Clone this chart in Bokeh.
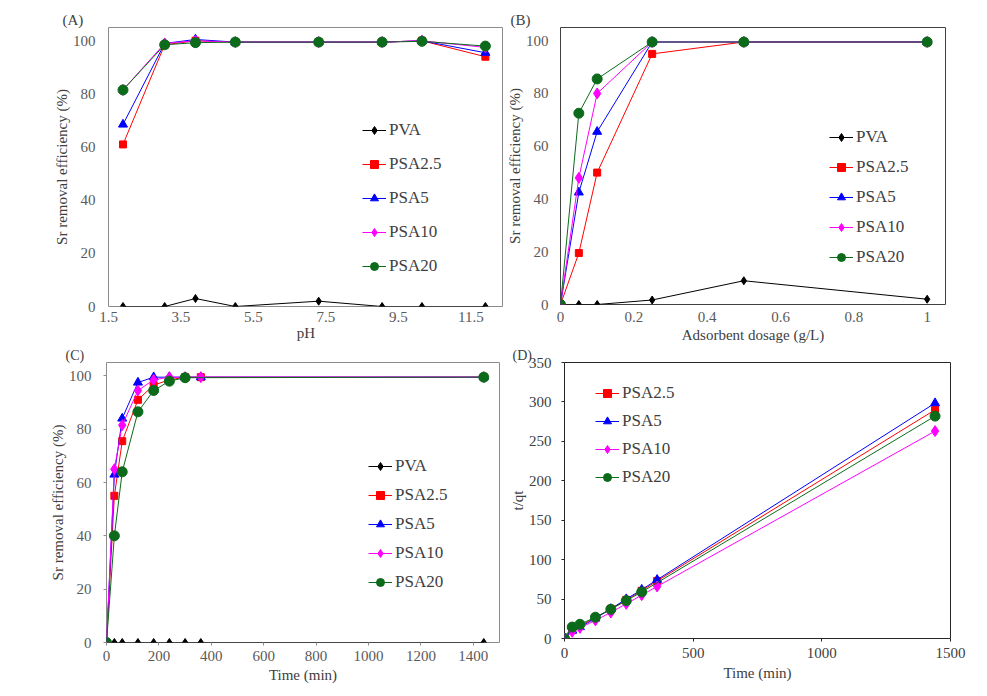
from bokeh.plotting import figure
from bokeh.layouts import column, row
from bokeh.models import FixedTicker, Legend, LegendItem, Range1d
from bokeh.embed import file_html
from bokeh.resources import INLINE

# ---------------- data ----------------
series_names = ["PVA", "PSA2.5", "PSA5", "PSA10", "PSA20"]

# (A) effect of pH
ph = [1.9, 3.05, 3.9, 5.0, 7.3, 9.05, 10.15, 11.9]
a_pva = [0, 0, 3, 0, 2, 0, 0, 0]
a_psa25 = [61, 98.5, 100, 99.5, 99.5, 99.5, 100, 94]
a_psa5 = [68.5, 99, 100.5, 99.5, 99.5, 99.5, 100, 95.5]
a_psa10 = [81.5, 99, 100, 99.5, 99.5, 99.5, 100, 97.5]
a_psa20 = [81.5, 98.5, 99.3, 99.5, 99.5, 99.5, 99.8, 98]

# (B) effect of adsorbent dosage
dose = [0, 0.05, 0.1, 0.25, 0.5, 1]
b_pva = [0, 0, 0, 1.7, 9, 2]
b_psa25 = [0, 19.5, 50, 95, 99.5, 99.5]
b_psa5 = [0, 42.5, 65.5, 99.5, 99.5, 99.5]
b_psa10 = [0, 48, 80, 99.5, 99.5, 99.5]
b_psa20 = [0, 72.5, 85.5, 99.5, 99.5, 99.5]

# (C) effect of contact time
c_time = [0, 30, 60, 120, 180, 240, 300, 360, 1440]
c_time20 = [0, 30, 60, 120, 180, 240, 300, 1440]
c_pva = [0, 0, 0, 0, 0, 0, 0, 0, 0]
c_psa25 = [0, 55, 75.5, 91, 96.5, 98.5, 99.5, 99.5, 99.5]
c_psa5 = [0, 63, 84, 97.5, 99.5, 99.5, 99.5, 99.5, 99.5]
c_psa10 = [0, 65, 81.5, 94.5, 98.5, 99.5, 99.5, 99.5, 99.5]
c_psa20 = [0, 40, 64, 86.5, 94.5, 98, 99.3, 99.5]

# (D) pseudo-second-order t/qt
d_time = [0, 30, 60, 120, 180, 240, 300, 360, 1440]
d_time20 = [0, 30, 60, 120, 180, 240, 300, 1440]
d_psa25 = [0, 11, 16, 26.5, 37.5, 49, 60.5, 73, 290]
d_psa5 = [0, 10, 14.5, 25.5, 37.5, 50, 62, 74.5, 298.5]
d_psa10 = [0, 8.5, 13.5, 23, 33, 44, 55, 66, 263]
d_psa20 = [0, 14.5, 18, 27, 37, 48, 59, 282]

# tick labels
a_xticks = [1.5, 3.5, 5.5, 7.5, 9.5, 11.5]
b_xticks = [0, 0.2, 0.4, 0.6, 0.8, 1]
b_xlabels = ["0", "0.2", "0.4", "0.6", "0.8", "1"]
c_xticks = [0, 200, 400, 600, 800, 1000, 1200, 1400]
d_xticks = [0, 500, 1000, 1500]
eff_yticks = [0, 20, 40, 60, 80, 100]
d_yticks = [0, 50, 100, 150, 200, 250, 300, 350]

# ---------------- styles ----------------
FONT = "'Liberation Serif', 'Times New Roman', serif"
STY = {
    "PVA": dict(color="#000000", marker="diamond", size=8),
    "PSA2.5": dict(color="#ff0000", marker="square", size=7),
    "PSA5": dict(color="#0000ff", marker="triangle", size=9),
    "PSA10": dict(color="#ff00ff", marker="diamond", size=11),
    "PSA20": dict(color="#0b6b1b", marker="circle", size=10),
}


def panel(tag, tag_off, tag_size, xr, yr, fw, fh, mb, xticks, yticks, xlabel, ylabel,
          frame_col, legend_xy, legend_spacing, xlabels=None, ticks_out=0,
          ylab_standoff=13, xlab_standoff=7, xaxis_standoff=2, yaxis_standoff=0,
          tick_col="#5a5a5a"):
    p = figure(frame_width=fw, frame_height=fh, x_range=Range1d(*xr), y_range=Range1d(*yr),
               output_backend="svg", toolbar_location=None,
               min_border_left=mb[0], min_border_right=mb[1], min_border_top=mb[2],
               min_border_bottom=mb[3])
    p.title.text = tag
    p.title.align = "left"
    p.title.offset = tag_off
    p.title.standoff = 0
    p.title.text_font = FONT
    p.title.text_font_size = tag_size
    p.title.text_font_style = "normal"
    p.title.text_color = "#404040"
    p.xgrid.visible = False
    p.ygrid.visible = False
    p.outline_line_color = frame_col
    p.outline_line_width = 1
    p.outline_line_alpha = 1
    for ax in (p.xaxis[0], p.yaxis[0]):
        ax.axis_line_color = None
        ax.minor_tick_line_color = None
        ax.major_tick_in = 0
        ax.major_tick_out = ticks_out
        ax.major_tick_line_color = frame_col if ticks_out else None
        ax.major_label_text_font = FONT
        ax.major_label_text_font_size = "15px"
        ax.major_label_text_font_style = "normal"
        ax.major_label_text_color = tick_col
        ax.axis_label_text_font = FONT
        ax.axis_label_text_font_size = "15px"
        ax.axis_label_text_font_style = "normal"
        ax.axis_label_text_color = "#404040"
    p.xaxis[0].ticker = FixedTicker(ticks=xticks)
    p.yaxis[0].ticker = FixedTicker(ticks=yticks)
    if xlabels is not None:
        p.xaxis[0].major_label_overrides = {t: l for t, l in zip(xticks, xlabels)}
    p.xaxis[0].major_label_standoff = xlab_standoff
    p.yaxis[0].major_label_standoff = ylab_standoff
    p.xaxis[0].axis_label = xlabel
    p.yaxis[0].axis_label = ylabel
    p.xaxis[0].axis_label_standoff = xaxis_standoff
    p.yaxis[0].axis_label_standoff = yaxis_standoff
    leg = Legend(items=[], location=legend_xy, padding=0, spacing=legend_spacing,
                 glyph_width=24, glyph_height=20, label_height=20, label_standoff=3,
                 border_line_color=None, background_fill_alpha=0,
                 label_text_font=FONT, label_text_font_size="17px",
                 label_text_font_style="normal",
                 label_text_color="#404040", margin=0)
    p.add_layout(leg)
    return p, leg


def add_series(p, leg, name, xs, ys):
    s = STY[name]
    r1 = p.line(xs, ys, line_color=s["color"], line_width=1)
    r2 = p.scatter(xs, ys, marker=s["marker"], size=s["size"],
                   fill_color=s["color"], line_color=s["color"])
    leg.items.append(LegendItem(label=name, renderers=[r1, r2]))


pA, lA = panel("(A)", -46, "15px", (1.5, 12.4), (0, 105), 395, 279, (108, 0, 27, 39),
               a_xticks, eff_yticks, "pH", "Sr removal efficiency (%)", "#8c8c8c",
               (254, 30), 14, xlab_standoff=5, xaxis_standoff=0)
for n, ys in zip(series_names, [a_pva, a_psa25, a_psa5, a_psa10, a_psa20]):
    add_series(pA, lA, n, ph, ys)

pB, lB = panel("(B)", -50, "15px", (0, 1.05), (0, 105), 385, 277, (55, 25, 25, 43),
               b_xticks, eff_yticks, "Adsorbent dosage (g/L)", "Sr removal efficiency (%)",
               "#404040", (269, 37), 10, xlabels=b_xlabels,
               ylab_standoff=12, xlab_standoff=7, xaxis_standoff=2)
for n, ys in zip(series_names, [b_pva, b_psa25, b_psa5, b_psa10, b_psa20]):
    add_series(pB, lB, n, dose, ys)

pC, lC = panel("(C)", -41, "14px", (0, 1500), (0, 105), 393, 280, (106, 7, 17, 50),
               c_xticks, eff_yticks, "Time (min)", "Sr removal efficiency (%)",
               "#8c8c8c", (262, 50), 9, ticks_out=3, ylab_standoff=12,
               xlab_standoff=5, xaxis_standoff=3)
for n, xs, ys in zip(series_names, [c_time, c_time, c_time, c_time, c_time20],
                     [c_pva, c_psa25, c_psa5, c_psa10, c_psa20]):
    add_series(pC, lC, n, xs, ys)

pD, lD = panel("(D)", -52, "14px", (0, 1500), (0, 350), 386, 276, (56, 20, 15, 55),
               d_xticks, d_yticks, "Time (min)", "t/qt", "#262626", (31, 151), 8,
               ticks_out=3, ylab_standoff=10, xlab_standoff=6,
               xaxis_standoff=4, tick_col="#404040")
for n, xs, ys in zip(series_names[1:], [d_time, d_time, d_time, d_time20],
                     [d_psa25, d_psa5, d_psa10, d_psa20]):
    add_series(pD, lD, n, xs, ys)

layout = column(row(pA, pB), row(pC, pD))
open("out.html", "w").write(file_html(layout, INLINE))
